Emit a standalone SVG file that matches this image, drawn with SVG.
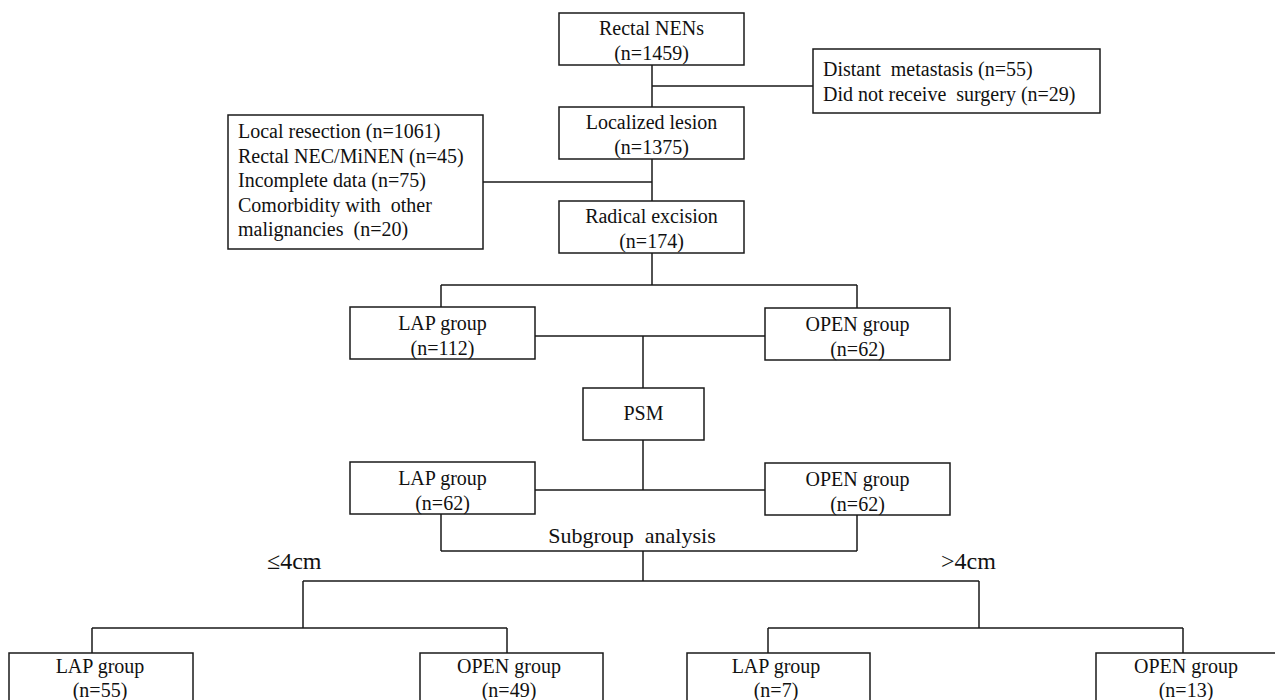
<svg xmlns="http://www.w3.org/2000/svg" width="1275" height="700" viewBox="0 0 1275 700">
<style>
.box{fill:#fff;stroke:#1a1a1a;stroke-width:1.5}
.ln{fill:none;stroke:#1a1a1a;stroke-width:1.5}
.t{font-family:'Liberation Serif',Tinos,'Times New Roman',Times,'DejaVu Serif',serif;font-size:20px;fill:#111}
.c{text-anchor:middle}
.big{font-size:22px}
.lab{font-size:24px}
</style>
<rect width="1275" height="700" fill="#fff"/>
<g id="connectors">
<path class="ln" d="M652,65V107M652,159V201M652,253V285M652,86H813M483,182H652"/>
<path class="ln" d="M441,285H857M441,285V307M857,285V308"/>
<path class="ln" d="M535,336H765M643,336V388M643,440V490M535,490H765"/>
<path class="ln" d="M441,514V551M857,515V551M441,551H857M643,551V581"/>
<path class="ln" d="M303,581H979M303,581V628M92,628H507M92,628V653M507,628V653"/>
<path class="ln" d="M979,581V628M768,628H1183M768,628V653M1183,628V653"/>
</g>
<g class="t" font-family="Liberation Serif, serif">
<g id="n1"><rect class="box" x="559" y="13" width="185" height="52"/>
<text class="c" x="651.5" y="35">Rectal NENs</text><text class="c" x="651.5" y="60">(n=1459)</text></g>
<g id="excl1"><rect class="box" x="813" y="49" width="287" height="64"/>
<text x="823" y="76" xml:space="preserve">Distant  metastasis (n=55)</text><text x="823" y="101" xml:space="preserve">Did not receive  surgery (n=29)</text></g>
<g id="n2"><rect class="box" x="559" y="107" width="185" height="52"/>
<text class="c" x="651.5" y="129">Localized lesion</text><text class="c" x="651.5" y="154">(n=1375)</text></g>
<g id="excl2"><rect class="box" x="228" y="115" width="255" height="134"/>
<text x="238" y="138">Local resection (n=1061)</text>
<text x="238" y="162.5">Rectal NEC/MiNEN (n=45)</text>
<text x="238" y="187">Incomplete data (n=75)</text>
<text x="238" y="211.5" xml:space="preserve">Comorbidity with  other</text>
<text x="238" y="236" xml:space="preserve">malignancies  (n=20)</text></g>
<g id="n3"><rect class="box" x="559" y="201" width="185" height="52"/>
<text class="c" x="651.5" y="223">Radical excision</text><text class="c" x="651.5" y="248">(n=174)</text></g>
<g id="lap1"><rect class="box" x="350" y="307" width="185" height="52"/>
<text class="c" x="442.5" y="330">LAP group</text><text class="c" x="442.5" y="355">(n=112)</text></g>
<g id="open1"><rect class="box" x="765" y="308" width="185" height="52"/>
<text class="c" x="857.5" y="331">OPEN group</text><text class="c" x="857.5" y="356">(n=62)</text></g>
<g id="psm"><rect class="box" x="583" y="388" width="121" height="52"/>
<text class="c" x="643.5" y="420">PSM</text></g>
<g id="lap2"><rect class="box" x="350" y="462" width="185" height="52"/>
<text class="c" x="442.5" y="485">LAP group</text><text class="c" x="442.5" y="510">(n=62)</text></g>
<g id="open2"><rect class="box" x="765" y="463" width="185" height="52"/>
<text class="c" x="857.5" y="486">OPEN group</text><text class="c" x="857.5" y="511">(n=62)</text></g>
<g id="subgroup"><text class="c big" x="632" y="543" xml:space="preserve">Subgroup  analysis</text></g>
<g id="le4"><text class="lab" x="267" y="569">≤4cm</text></g>
<g id="gt4"><text class="lab" x="941" y="569">&gt;4cm</text></g>
<g id="lap55"><rect class="box" x="9" y="653" width="184" height="60"/>
<text class="c" x="100" y="673">LAP group</text><text class="c" x="100" y="697">(n=55)</text></g>
<g id="open49"><rect class="box" x="420" y="653" width="183" height="60"/>
<text class="c" x="509" y="673">OPEN group</text><text class="c" x="509" y="697">(n=49)</text></g>
<g id="lap7"><rect class="box" x="687" y="653" width="183" height="60"/>
<text class="c" x="776" y="673">LAP group</text><text class="c" x="776" y="697">(n=7)</text></g>
<g id="open13"><rect class="box" x="1096" y="653" width="184" height="60"/>
<text class="c" x="1186" y="673">OPEN group</text><text class="c" x="1186" y="697">(n=13)</text></g>
</g>
</svg>
